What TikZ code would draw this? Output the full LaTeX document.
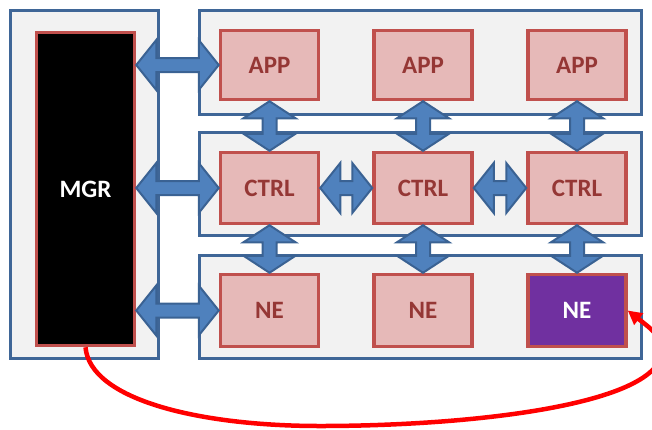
\documentclass[tikz,border=0pt]{standalone}
\usepackage{fontspec}
\setmainfont{Carlito}
\usetikzlibrary{calc,arrows.meta}
\definecolor{panelfill}{HTML}{F2F2F2}
\definecolor{paneldraw}{HTML}{3F6697}
\definecolor{boxfill}{HTML}{E6B9B8}
\definecolor{boxdraw}{HTML}{C0504D}
\definecolor{boxtext}{HTML}{953735}
\definecolor{arrfill}{HTML}{4F81BD}
\definecolor{arrdraw}{HTML}{3A6293}
\definecolor{nepurple}{HTML}{7030A0}
\newcommand\harr[2]{\path[darrow] let \p1=(#1.east |- #2.west), \p2=(#2.west) in
  (\x1,\y1) -- ++(20pt,25pt) -- ++(0,-18pt) -- (\x2-20pt,\y1+7pt) -- ++(0,18pt) -- (\x2,\y1)
  -- ++(-20pt,-25pt) -- ++(0,18pt) -- (\x1+20pt,\y1-7pt) -- ++(0,-18pt) -- cycle;}
\newcommand\varr[2]{\path[darrow] let \p1=(#1.south), \p2=(#2.north) in
  (\x1,\y1) -- ++(26pt,-17pt) -- ++(-19pt,0) -- (\x1+7pt,\y2+17pt) -- ++(19pt,0) -- (\x1,\y2)
  -- ++(-26pt,17pt) -- ++(19pt,0) -- (\x1-7pt,\y1-17pt) -- ++(-19pt,0) -- cycle;}
\begin{document}
\begin{tikzpicture}[x=1pt,y=-1pt,
  panel/.style={draw=paneldraw,fill=panelfill,line width=3pt,inner sep=0pt},
  box/.style={draw=boxdraw,fill=boxfill,line width=3.5pt,minimum width=98pt,inner sep=0pt,
    font=\fontsize{25}{28}\selectfont\bfseries,text=boxtext},
  darrow/.style={fill=arrfill,draw=arrdraw,line width=2pt,line join=miter},
  redline/.style={draw=red,line width=4.5pt,-{Triangle[length=14pt,width=14pt]}}]
\useasboundingbox (0,0) rectangle (652,429);
% panels
\node[panel,minimum width=148pt,minimum height=348pt] (pl) at (84,184) {};
\node[panel,minimum width=442pt,minimum height=104pt] (pt) at (420,62) {};
\node[panel,minimum width=442pt,minimum height=103pt] (pm) at (420,183.5) {};
\node[panel,minimum width=442pt,minimum height=103pt] (pb) at (420,306.5) {};
% manager
\node[box,fill=black,text=white,minimum width=98pt,minimum height=313pt] (mgr) at (85.5,189) {MGR};
% boxes
\node[box,minimum height=69pt] (app1) at (269.5,65) {APP};
\node[box,minimum height=69pt] (app2) at (423,65) {APP};
\node[box,minimum height=69pt] (app3) at (577,65) {APP};
\node[box,minimum height=71pt] (ctrl1) at (269.5,188) {CTRL};
\node[box,minimum height=71pt] (ctrl2) at (423,188) {CTRL};
\node[box,minimum height=71pt] (ctrl3) at (577,188) {CTRL};
\node[box,minimum height=72pt] (ne1) at (269.5,310.5) {NE};
\node[box,minimum height=72pt] (ne2) at (423,310.5) {NE};
\node[box,minimum height=72pt,fill=nepurple,text=white] (ne3) at (577,310.5) {NE};
% arrows
\harr{mgr}{app1}
\harr{mgr}{ctrl1}
\harr{mgr}{ne1}
\harr{ctrl1}{ctrl2}
\harr{ctrl2}{ctrl3}
\varr{app1}{ctrl1}
\varr{app2}{ctrl2}
\varr{app3}{ctrl3}
\varr{ctrl1}{ne1}
\varr{ctrl2}{ne2}
\varr{ctrl3}{ne3}
% red curve
\coordinate (c1) at (320,426);
\coordinate (c2) at (662,350);
\draw[redline] (mgr.south) .. controls (90,400) and (200,426) .. (c1)
  .. controls (470,426) and (662,405) .. (c2)
  .. controls (662,336) and (650,328) .. (ne3.east);
\end{tikzpicture}
\end{document}
